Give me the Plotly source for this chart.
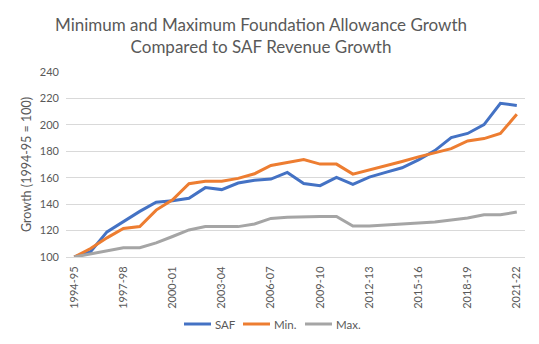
import plotly.graph_objects as go

# Fiscal years 1994-95 through 2021-22
years = [f"{y}-{(y + 1) % 100:02d}" for y in range(1994, 2022)]

# Growth indices (1994-95 = 100)
saf = [100, 104, 119, 127, 134.5, 141.5, 142.5, 144.5, 152.5, 151, 156, 158, 159, 164,
       155.6, 154, 160.3, 155, 160.5, 164, 167.5, 173.5, 180.5, 190.3, 193.5, 200.2, 216.3, 214.7]
min_fa = [100, 106.4, 114.5, 121.6, 123, 135.5, 143.3, 155.5, 157.4, 157.4, 159.5, 163, 169.3, 171.5,
          173.7, 170.3, 170.3, 162.7, 165.8, 168.8, 172.3, 175.8, 179, 182, 187.8, 189.6, 193.5, 208]
max_fa = [100, 102.5, 105, 107, 107, 110.7, 115.5, 120.5, 123, 123, 123, 125, 129.2, 130,
          130.6, 130.7, 130.7, 123.4, 123.4, 124.2, 125, 125.7, 126.5, 128, 129.5, 132, 132, 134]

tick_labels = years[::3]

series = [
    ("SAF", saf, "#4472C4"),
    ("Min.", min_fa, "#ED7D31"),
    ("Max.", max_fa, "#A5A5A5"),
]

text_color = "#595959"
font_family = "Lato, 'Open Sans', sans-serif"

W, H = 539, 344
M_L, M_R, M_T, M_B = 66, 14, 72, 87
plot_w = W - M_L - M_R
plot_h = H - M_T - M_B


def px_x(px):
    return (px - M_L) / plot_w


def px_y(py):
    return (H - M_B - py) / plot_h


fig = go.Figure()
for name, vals, color in series:
    fig.add_trace(go.Scatter(
        x=years, y=vals, name=name, mode="lines",
        line=dict(color=color, width=3),
        showlegend=False,
    ))

# Two-line chart title
fig.add_annotation(
    text="Minimum and Maximum Foundation Allowance Growth<br>Compared to SAF Revenue Growth",
    xref="paper", yref="paper",
    x=px_x(261), y=px_y(35),
    xanchor="center", yanchor="middle",
    showarrow=False, align="center",
    font=dict(size=17, color=text_color, family=font_family),
)

# Compact horizontal legend below the axis: short line key + label per series
legend_y = px_y(324)
key_starts = [184, 243, 305]
key_len = 27
for (name, _, color), x0 in zip(series, key_starts):
    fig.add_shape(
        type="line", xref="paper", yref="paper",
        x0=px_x(x0), x1=px_x(x0 + key_len), y0=legend_y, y1=legend_y,
        line=dict(color=color, width=3),
    )
    fig.add_annotation(
        text=name, xref="paper", yref="paper",
        x=px_x(x0 + key_len + 2), y=legend_y,
        xanchor="left", yanchor="middle", showarrow=False,
        font=dict(size=11.5, color=text_color, family=font_family),
    )

fig.update_layout(
    width=W, height=H,
    margin=dict(l=M_L, r=M_R, t=M_T, b=M_B),
    paper_bgcolor="white", plot_bgcolor="white",
    font=dict(family=font_family, color=text_color, size=11),
    showlegend=False,
    xaxis=dict(
        type="category",
        range=[-0.5, len(years) - 0.5],
        tickmode="array", tickvals=tick_labels, ticktext=tick_labels,
        tickangle=-90,
        showgrid=False,
        showline=True, linecolor="#D9D9D9", linewidth=1,
        ticks="", ticklabelstandoff=4,
        tickfont=dict(size=11, color=text_color),
    ),
    yaxis=dict(
        range=[100, 240], dtick=20,
        showgrid=True, gridcolor="#D9D9D9", gridwidth=1,
        zeroline=False, showline=False,
        ticks="", ticklabelstandoff=6,
        tickfont=dict(size=11, color=text_color),
        title=dict(text="Growth (1994-95 = 100)", standoff=5,
                   font=dict(size=12.5, color=text_color)),
    ),
)

fig.write_html("out.html")
